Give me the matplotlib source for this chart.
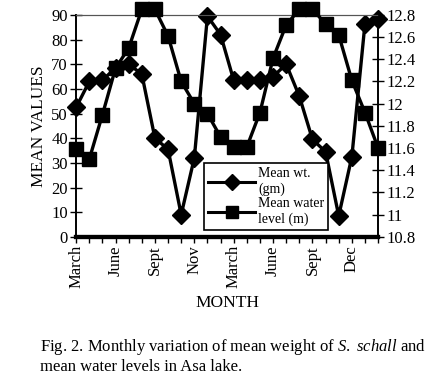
import matplotlib
matplotlib.use("Agg")
import matplotlib.pyplot as plt
from matplotlib.lines import Line2D

plt.rcParams['font.family'] = ['Liberation Serif', 'DejaVu Serif']
plt.rcParams['mathtext.fontset'] = 'custom'
plt.rcParams['mathtext.rm'] = 'Liberation Serif'
plt.rcParams['mathtext.it'] = 'Liberation Serif:italic'

# monthly values, two years of sampling
mean_wt = [52.5, 63, 63.5, 68.5, 70, 66, 40, 35.5, 9, 32, 89.5, 82,
           63.5, 63.5, 63.5, 65, 70, 57, 39.5, 34.5, 8.5, 32.5, 86.5, 88.5]
water_level = [11.59, 11.50, 11.90, 12.32, 12.50, 12.85, 12.85, 12.61, 12.20, 12.00, 11.91, 11.70,
               11.61, 11.61, 11.92, 12.41, 12.71, 12.85, 12.85, 12.72, 12.62, 12.21, 11.92, 11.60]
month_labels = ['March', 'June', 'Sept', 'Nov', 'March', 'June', 'Sept', 'Dec']

x = list(range(len(mean_wt)))

fig = plt.figure(figsize=(4.48, 3.82), dpi=100)
ax = fig.add_axes([0.170, 0.380, 0.674, 0.581])
ax2 = ax.twinx()

ax.plot(x, mean_wt, color='black', lw=2.4, marker='D', ms=9.5, clip_on=False, zorder=3)
ax2.plot(x, water_level, color='black', lw=2.4, marker='s', ms=10.5, clip_on=False, zorder=3)

ax.set_xlim(0, 23)
ax.set_ylim(0, 90)
ax2.set_ylim(10.8, 12.8)
ax.set_yticks(range(0, 91, 10))
ax2.set_yticks([10.8 + 0.2 * i for i in range(11)])
ax2.set_yticklabels(['10.8', '11', '11.2', '11.4', '11.6', '11.8', '12', '12.2', '12.4', '12.6', '12.8'])

ax.set_xticks(x, minor=True)
ax.set_xticks(x[::3])
ax.set_xticklabels(month_labels, rotation=90, fontsize=12)
ax.tick_params(axis='x', which='both', direction='out', length=4, width=1, pad=2)
ax.tick_params(axis='y', direction='inout', length=8, width=1, labelsize=12, pad=2)
ax2.tick_params(axis='y', direction='inout', length=8, width=1, labelsize=12, pad=2)

for a in (ax, ax2):
    a.spines['top'].set_linestyle((0, (1, 1)))
    a.spines['top'].set_color('#555555')
    a.spines['bottom'].set_linewidth(3)
    a.spines['left'].set_linewidth(1.2)
    a.spines['right'].set_linewidth(1.2)

ax.set_ylabel('MEAN VALUES', fontsize=12.5, labelpad=3)
ax.set_xlabel('MONTH', fontsize=12.5, labelpad=5)

handles = [Line2D([], [], color='black', lw=2.2, marker='D', ms=8.5),
           Line2D([], [], color='black', lw=2.2, marker='s', ms=9)]
leg = ax.legend(handles, ['Mean wt.\n(gm)', 'Mean water\nlevel (m)'],
                loc='lower left', bbox_to_anchor=(0.40, 0.0), fontsize=10,
                frameon=True, fancybox=False, edgecolor='black', framealpha=1,
                handlelength=3.4, handletextpad=0.2, borderpad=0.3, labelspacing=0.1)
leg.get_frame().set_linewidth(1.2)
leg.set_zorder(5)

fig.text(0.089, 0.092, r'Fig. 2. Monthly variation of mean weight of $\mathit{S.}$ $\mathit{schall}$ and',
         fontsize=12, va='center', ha='left')
fig.text(0.089, 0.040, 'mean water levels in Asa lake.', fontsize=12, va='center', ha='left')

fig.savefig('out.png', dpi=100)
